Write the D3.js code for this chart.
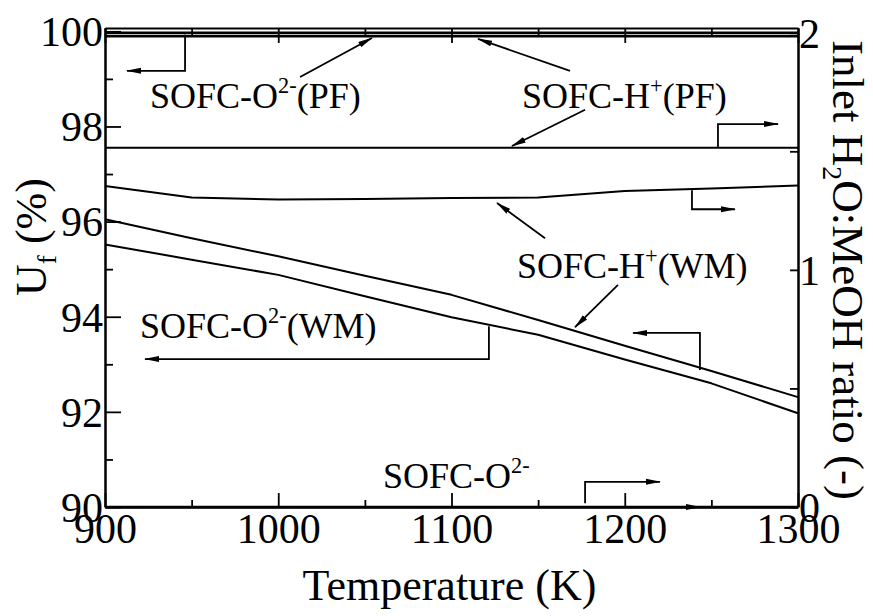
<!DOCTYPE html>
<html>
<head>
<meta charset="utf-8">
<script src="https://cdn.jsdelivr.net/npm/d3@7"></script>
<style>
  body { margin: 0; background: #fff; }
  text, tspan { font-family: Liberation Serif, DejaVu Serif, serif; }
</style>
</head>
<body>
<svg id="chart" width="873" height="616"></svg>
<script>
// Operating temperature (K)
const temperatures = [900, 950, 1000, 1050, 1100, 1150, 1200, 1250, 1300];

// Fuel utilisation Uf (%) — left axis
const ufO2PF = [99.97, 99.97, 99.97, 99.97, 99.97, 99.97, 99.97, 99.97, 99.97];
const ufHPF  = [99.90, 99.90, 99.90, 99.90, 99.90, 99.90, 99.90, 99.90, 99.90];
const ufHWM  = [96.05, 95.65, 95.27, 94.86, 94.46, 93.93, 93.39, 92.86, 92.31];
const ufO2WM = [95.52, 95.20, 94.88, 94.43, 93.99, 93.62, 93.10, 92.60, 91.97];

// Inlet H2O:MeOH ratio (-) — right axis
const ratioHPF = [1.515, 1.515, 1.515, 1.515, 1.515, 1.515, 1.515, 1.515, 1.515];
const ratioHWM = [1.354, 1.305, 1.297, 1.299, 1.303, 1.305, 1.333, 1.343, 1.356];
const ratioO2  = [0, 0, 0, 0, 0, 0, 0, 0, 0];

// Tick values
const xTicks = [900, 1000, 1100, 1200, 1300];
const xMinorTicks = [950, 1050, 1150, 1250];
const ufTicks = [90, 92, 94, 96, 98, 100];
const ufMinorTicks = [91, 93, 95, 97, 99];
const ratioTicks = [0, 1, 2];
const ratioMinorTicks = [0.5, 1.5];

// Series labels: text pieces, anchor in (T, Uf)
const seriesLabels = [
  { parts: [["SOFC-O"], ["2-", "sup"], ["(PF)"]], t: 926, uf: 98.39 },
  { parts: [["SOFC-H"], ["+", "sup"], ["(PF)"]], t: 1140.7, uf: 98.39 },
  { parts: [["SOFC-H"], ["+", "sup"], ["(WM)"]], t: 1137.8, uf: 94.81 },
  { parts: [["SOFC-O"], ["2-", "sup"], ["(WM)"]], t: 920.2, uf: 93.55 },
  { parts: [["SOFC-O"], ["2-", "sup"]], t: 1060.5, uf: 90.40 }
];

// Leader arrows, each a polyline of [T, Uf] points ending at the arrowhead
const leaders = [
  [[946.2, 99.93], [946.2, 99.17], [912.7, 99.17]],
  [[1012.6, 99.04], [1054.1, 99.86]],
  [[1168.4, 99.17], [1115.3, 99.84]],
  [[1177.1, 98.35], [1134.9, 97.59]],
  [[1253.8, 97.55], [1253.8, 98.05], [1288.5, 98.05]],
  [[1238.8, 96.66], [1238.8, 96.26], [1263.6, 96.26]],
  [[1154.0, 95.65], [1126.3, 96.39]],
  [[1196.1, 94.67], [1171.3, 93.78]],
  [[1243.4, 92.88], [1243.4, 93.66], [1204.8, 93.66]],
  [[1121.6, 93.80], [1121.6, 93.11], [923.1, 93.11]],
  [[1177.1, 90.08], [1177.1, 90.53], [1220.3, 90.53]],
  [[1158.6, 90.00], [1243.4, 90.00]]
];

const FONT = "Liberation Serif, DejaVu Serif, serif";
const W = 873, H = 616;
const plot = { left: 105, right: 798, top: 28, bottom: 507 };

const svg = d3.select("#chart");

const x = d3.scaleLinear().domain([900, 1300]).range([plot.left, plot.right]);
const yL = d3.scaleLinear().domain([90, 100.07]).range([plot.bottom, plot.top]);
const yR = d3.scaleLinear().domain([0, 2.02]).range([plot.bottom, plot.top]);

svg.append("rect").attr("width", W).attr("height", H).attr("fill", "#fff");

// Arrowhead
svg.append("defs").append("marker")
  .attr("id", "head")
  .attr("markerUnits", "userSpaceOnUse")
  .attr("viewBox", "0 -4 15 8")
  .attr("refX", 14).attr("refY", 0)
  .attr("markerWidth", 15).attr("markerHeight", 8)
  .attr("orient", "auto")
  .append("path").attr("d", "M0,-3L15,0L0,3Z").attr("fill", "#000");

// Axes (ticks pointing into the plot)
function styleAxis(g, width) {
  g.attr("font-family", FONT);
  g.select(".domain").attr("stroke", "#000").attr("stroke-width", width);
  g.selectAll(".tick line").attr("stroke", "#000").attr("stroke-width", 1.8);
  g.selectAll(".tick text").attr("fill", "#000").attr("font-family", FONT);
}

const tickFont = 42;

// bottom
const gxB = svg.append("g").attr("transform", `translate(0,${plot.bottom})`)
  .call(d3.axisBottom(x).tickValues(xTicks).tickSizeInner(-14).tickSizeOuter(0).tickFormat(d3.format("d")));
styleAxis(gxB, 2.5);
gxB.selectAll(".tick text").attr("font-size", tickFont).attr("y", 6).attr("dy", "0.71em");
const gxBm = svg.append("g").attr("transform", `translate(0,${plot.bottom})`)
  .call(d3.axisBottom(x).tickValues(xMinorTicks).tickSizeInner(-7).tickSizeOuter(0).tickFormat(""));
styleAxis(gxBm, 0);

// top
const gxT = svg.append("g").attr("transform", `translate(0,${plot.top})`)
  .call(d3.axisTop(x).tickValues(xTicks).tickSizeInner(-15).tickSizeOuter(0).tickFormat(""));
styleAxis(gxT, 2);
const gxTm = svg.append("g").attr("transform", `translate(0,${plot.top})`)
  .call(d3.axisTop(x).tickValues(xMinorTicks).tickSizeInner(-9).tickSizeOuter(0).tickFormat(""));
styleAxis(gxTm, 0);

// left (Uf)
const gyL = svg.append("g").attr("transform", `translate(${plot.left},0)`)
  .call(d3.axisLeft(yL).tickValues(ufTicks).tickSizeInner(-16).tickSizeOuter(0).tickFormat(d3.format("d")));
styleAxis(gyL, 2.5);
gyL.selectAll(".tick text").attr("font-size", tickFont).attr("x", -2).attr("dy", "0.34em");
const gyLm = svg.append("g").attr("transform", `translate(${plot.left},0)`)
  .call(d3.axisLeft(yL).tickValues(ufMinorTicks).tickSizeInner(-8).tickSizeOuter(0).tickFormat(""));
styleAxis(gyLm, 0);

// right (ratio)
const gyR = svg.append("g").attr("transform", `translate(${plot.right},0)`)
  .call(d3.axisRight(yR).tickValues(ratioTicks).tickSizeInner(-8).tickSizeOuter(0).tickFormat(d3.format("d")));
styleAxis(gyR, 2.5);
gyR.selectAll(".tick text").attr("font-size", tickFont).attr("x", 1).attr("dy", "0.34em");
const gyRm = svg.append("g").attr("transform", `translate(${plot.right},0)`)
  .call(d3.axisRight(yR).tickValues(ratioMinorTicks).tickSizeInner(-8).tickSizeOuter(0).tickFormat(""));
styleAxis(gyRm, 0);

// Curves
const lineL = d3.line().x((d, i) => x(temperatures[i])).y(d => yL(d));
const lineR = d3.line().x((d, i) => x(temperatures[i])).y(d => yR(d));

const curves = [
  { data: ufO2PF, gen: lineL, w: 2.6 },
  { data: ufHPF, gen: lineL, w: 2.6 },
  { data: ufHWM, gen: lineL, w: 2 },
  { data: ufO2WM, gen: lineL, w: 2 },
  { data: ratioHPF, gen: lineR, w: 2 },
  { data: ratioHWM, gen: lineR, w: 2 },
  { data: ratioO2, gen: lineR, w: 2.5 }
];
svg.append("g").selectAll("path").data(curves).join("path")
  .attr("d", c => c.gen(c.data))
  .attr("fill", "none").attr("stroke", "#000")
  .attr("stroke-width", c => c.w)
  .attr("stroke-linejoin", "round");

// Leader arrows
const leaderLine = d3.line().x(p => x(p[0])).y(p => yL(p[1]));
svg.append("g").selectAll("path").data(leaders).join("path")
  .attr("d", leaderLine)
  .attr("fill", "none").attr("stroke", "#000").attr("stroke-width", 1.8)
  .attr("marker-end", "url(#head)");

// Rich text helper (super/subscripts)
function richText(sel, parts, size) {
  let shift = 0;
  sel.attr("font-family", FONT).attr("fill", "#000");
  parts.forEach(([t, kind]) => {
    const target = kind === "sup" ? -0.42 * size : kind === "sub" ? 0.22 * size : 0;
    const ts = sel.append("tspan").text(t).attr("dy", target - shift);
    if (kind) ts.attr("font-size", size * 0.62);
    shift = target;
  });
}

const labelFont = 36;
seriesLabels.forEach(l => {
  const t = svg.append("text").attr("x", x(l.t)).attr("y", yL(l.uf)).attr("font-size", labelFont);
  richText(t, l.parts, labelFont);
});

// Axis titles
const titleFont = 44;
const tb = svg.append("text")
  .attr("x", (plot.left + plot.right) / 2 - 2).attr("y", 600)
  .attr("text-anchor", "middle").attr("font-size", titleFont);
richText(tb, [["Temperature (K)"]], titleFont);

const tl = svg.append("text")
  .attr("transform", "translate(46,237) rotate(-90)")
  .attr("text-anchor", "middle").attr("font-size", titleFont);
richText(tl, [["U"], ["f", "sub"], [" (%)"]], titleFont);

const tr = svg.append("text")
  .attr("transform", "translate(833,270) rotate(90)")
  .attr("text-anchor", "middle").attr("font-size", 45);
richText(tr, [["Inlet H"], ["2", "sub"], ["O:MeOH ratio (-)"]], 45);
</script>
</body>
</html>
